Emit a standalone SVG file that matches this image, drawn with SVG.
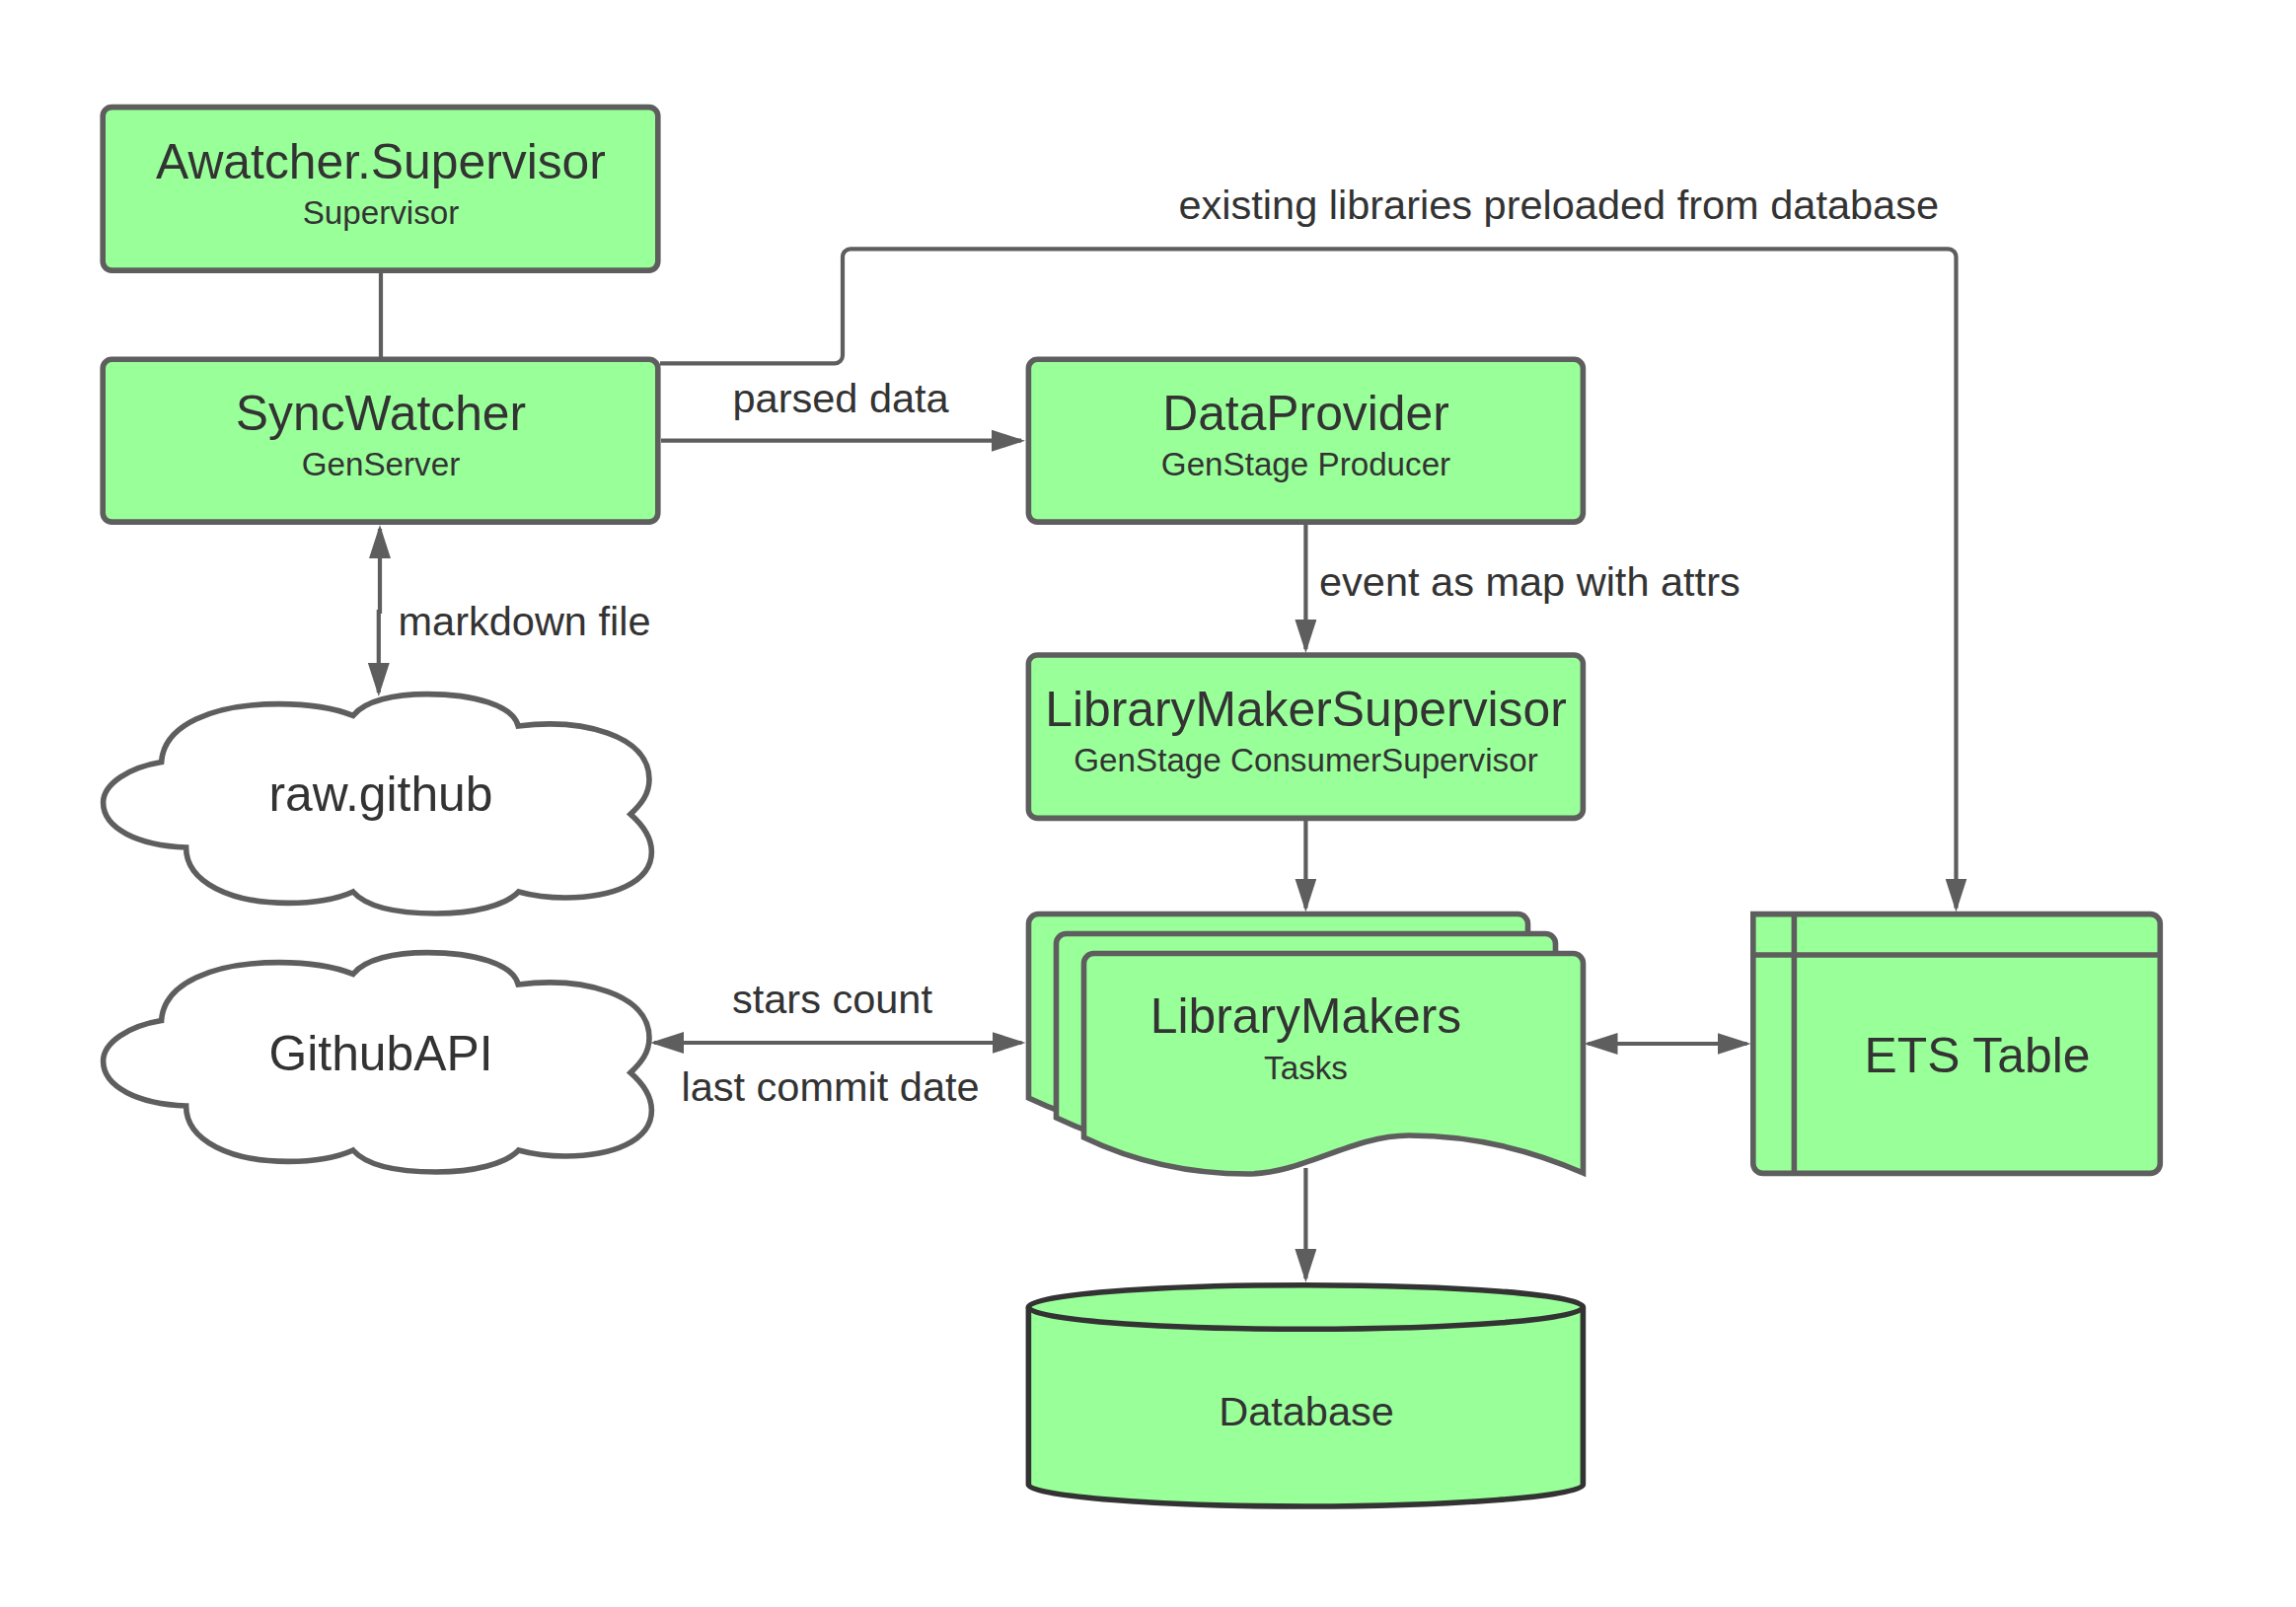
<svg xmlns="http://www.w3.org/2000/svg" xmlns:xlink="http://www.w3.org/1999/xlink" width="2327" height="1629" viewBox="0 0 2327 1629">
<style>
text{font-family:"Liberation Sans",Arial,sans-serif;fill:#333333}
.main{font-size:49.8px;text-anchor:middle}
.sub{font-size:33.2px;text-anchor:middle}
.mid{font-size:41.5px;text-anchor:middle}
.lbl{font-size:41.5px}
.box{fill:#99ff99;stroke:#5e5e5e;stroke-width:5.6}
.cloud{fill:#ffffff;stroke:#5e5e5e;stroke-width:5.6}
.cyl{fill:#99ff99;stroke:#333333;stroke-width:5.6}
.inner{fill:none;stroke:#5e5e5e;stroke-width:5.6}
.conn{fill:none;stroke:#5e5e5e;stroke-width:4.2}
.a{marker-end:url(#arrow)}
.b{marker-start:url(#arrow);marker-end:url(#arrow)}
</style>
<defs>
<marker id="arrow" viewBox="0 0 34 22" refX="30" refY="11" markerWidth="34" markerHeight="22" markerUnits="userSpaceOnUse" orient="auto-start-reverse">
<path d="M0,0L34,11L0,22Z" fill="#5e5e5e"/>
</marker>
<path id="cloudShape" d="M163.6,772.5C166,735 215,713.6 283,713.6C314,713.6 337,717 357.8,725.4C370,710 400,703.6 433,703.6C480,703.6 520,715 525.2,736C590,728 658,745 658,790C658,805 650,815 639,825.4C650,835 660.4,848 660.4,863.6C660.4,895 620,910 573,910C555,910 540,908 525.6,904C512,918 480,926 442,926C405,926 372,920 357.8,904C340,912 315,915.4 292,915.4C235,915.4 188.6,895 188.6,859C140,857 104.6,840 104.6,813.6C104.6,795 130,778 163.6,772.5Z"/>
<path id="docShape" d="M1098.5,1153V976.5a10,10 0 0 1 10,-10H1594.5a10,10 0 0 1 10,10V1189C1550,1165 1490,1151 1428,1151C1370,1151 1320,1190 1265,1190C1225,1190 1165,1185 1098.5,1153Z"/>
</defs>
<rect width="2327" height="1629" fill="#ffffff"/>
<g id="node-awatcher-supervisor">
<rect class="box" x="104.2" y="108.6" width="562.6" height="165.5" rx="9"/>
<text class="main" x="386" y="180.5">Awatcher.Supervisor</text>
<text class="sub" x="386" y="227">Supervisor</text>
</g>
<g id="node-syncwatcher">
<rect class="box" x="104.2" y="364.3" width="562.6" height="164.8" rx="9"/>
<text class="main" x="386" y="435.5">SyncWatcher</text>
<text class="sub" x="386" y="482">GenServer</text>
</g>
<g id="node-dataprovider">
<rect class="box" x="1042.4" y="364.3" width="562" height="164.8" rx="9"/>
<text class="main" x="1323.5" y="435.5">DataProvider</text>
<text class="sub" x="1323.5" y="482">GenStage Producer</text>
</g>
<g id="node-librarymakersupervisor">
<rect class="box" x="1042.4" y="664" width="562" height="165.4" rx="9"/>
<text class="main" x="1323.5" y="735.5">LibraryMakerSupervisor</text>
<text class="sub" x="1323.5" y="782">GenStage ConsumerSupervisor</text>
</g>
<g id="node-librarymakers">
<use href="#docShape" class="box" x="-56" y="-40"/>
<use href="#docShape" class="box" x="-28" y="-20"/>
<use href="#docShape" class="box"/>
<text class="main" x="1323.5" y="1047">LibraryMakers</text>
<text class="sub" x="1323.5" y="1094">Tasks</text>
</g>
<g id="node-ets-table">
<path class="box" d="M1776.8,926.6H2179.3a10,10 0 0 1 10,10V1179.4a10,10 0 0 1 -10,10H1786.8a10,10 0 0 1 -10,-10Z"/>
<path class="inner" d="M1818.4,926.6V1189.4M1776.8,968H2189.3"/>
<text class="main" x="2004" y="1087">ETS Table</text>
</g>
<g id="node-database">
<path class="cyl" d="M1042.4,1325V1505C1042.4,1517 1180,1527 1323.5,1527C1467,1527 1604.4,1517 1604.4,1505V1325"/>
<ellipse class="cyl" cx="1323.4" cy="1325" rx="281" ry="22.3"/>
<text class="mid" x="1324" y="1445">Database</text>
</g>
<g id="node-raw-github">
<use href="#cloudShape" class="cloud"/>
<text class="main" x="386" y="822">raw.github</text>
</g>
<g id="node-githubapi">
<use href="#cloudShape" class="cloud" y="262"/>
<text class="main" x="386" y="1084.5">GithubAPI</text>
</g>
<g id="connectors">
<path class="conn" d="M386,277V362"/>
<path class="conn a" d="M669,368.3H846a8,8 0 0 0 8,-8V260.3a8,8 0 0 1 8,-8H1974.5a8,8 0 0 1 8,8V920.5"/>
<path class="conn a" d="M670,446.7H1035"/>
<path class="conn b" d="M385,536V620H383.8V702"/>
<path class="conn a" d="M1323.4,532V658"/>
<path class="conn a" d="M1323.4,832V920.5"/>
<path class="conn a" d="M1323.4,1184V1296"/>
<path class="conn b" d="M663,1057H1035.5"/>
<path class="conn b" d="M1609.5,1058H1770.5"/>
</g>
<g id="labels">
<text class="lbl" x="1194.5" y="221.5">existing libraries preloaded from database</text>
<text class="lbl" x="742.5" y="418">parsed data</text>
<text class="lbl" x="403.5" y="643.5">markdown file</text>
<text class="lbl" x="1337" y="603.5">event as map with attrs</text>
<text class="lbl" x="742" y="1027">stars count</text>
<text class="lbl" x="690.5" y="1116">last commit date</text>
</g>
</svg>
